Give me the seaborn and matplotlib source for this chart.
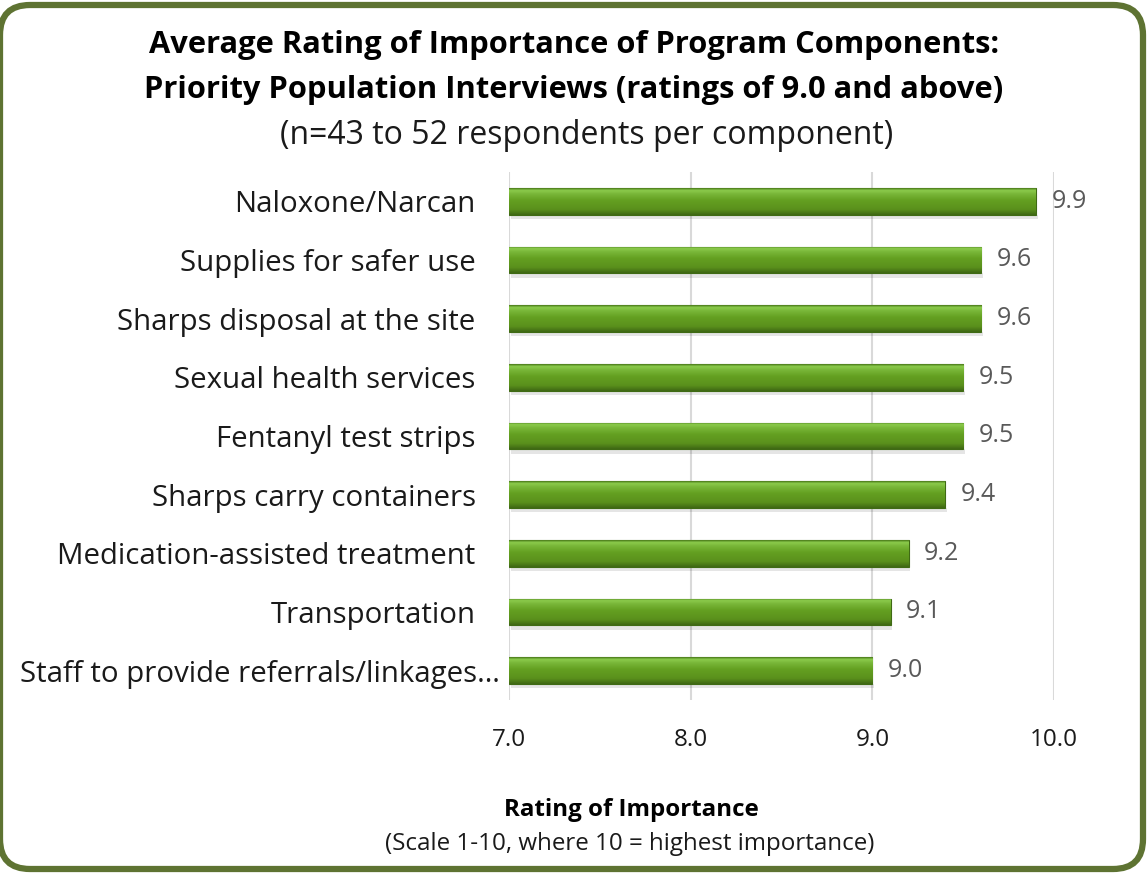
import matplotlib
matplotlib.use("Agg")
import matplotlib.pyplot as plt
import matplotlib.transforms as mtransforms
import seaborn as sns
import numpy as np
import pandas as pd
from matplotlib.patches import FancyBboxPatch
from matplotlib.colors import LinearSegmentedColormap

categories = ["Naloxone/Narcan", "Supplies for safer use", "Sharps disposal at the site",
              "Sexual health services", "Fentanyl test strips", "Sharps carry containers",
              "Medication-assisted treatment", "Transportation",
              "Staff to provide referrals/linkages\u2026"]
values = [9.9, 9.6, 9.6, 9.5, 9.5, 9.4, 9.2, 9.1, 9.0]
xticks = [7.0, 8.0, 9.0, 10.0]
AXIS_MIN = 7.0

sns.set_theme(style="white")
plt.rcParams['font.family'] = ['Open Sans', 'DejaVu Sans']

W, H = 1148, 874
fig = plt.figure(figsize=(W / 100, H / 100), dpi=100)

# background axes for the rounded frame (pixel coordinates)
bg = fig.add_axes([0, 0, 1, 1], zorder=-5)
bg.set_xlim(0, W)
bg.set_ylim(0, H)
bg.axis("off")
bg.patch.set_alpha(0)
frame = FancyBboxPatch((0, 5), 1143, 864, boxstyle="round,pad=0,rounding_size=30",
                       fill=False, edgecolor="#5e7332", linewidth=4.5, clip_on=False)
bg.add_patch(frame)

ax = fig.add_axes([509 / W, 174 / H, (1054 - 509) / W, (702 - 174) / H])
ax.patch.set_alpha(0)

df = pd.DataFrame({"cat": categories, "val": values})
sns.barplot(data=df, x="val", y="cat", orient="h", ax=ax, width=0.46,
            color="#64a020", edgecolor="#3f6a14", linewidth=0.8, zorder=3)

# bars start at the axis minimum
for p in ax.patches:
    right = p.get_x() + p.get_width()
    p.set_x(AXIS_MIN)
    p.set_width(right - AXIS_MIN)

cmap = LinearSegmentedColormap.from_list(
    "g", [(0.0, "#4a7a1a"), (0.08, "#8ccc4c"), (0.2, "#7ab83a"),
          (0.45, "#64a021"), (0.8, "#5a901c"), (1.0, "#3f6814")])
grad = np.linspace(0, 1, 64).reshape(-1, 1)
for p in list(ax.patches):
    x0, y0 = p.get_x(), p.get_y()
    w, h = p.get_width(), p.get_height()
    ax.add_patch(plt.Rectangle((x0 + 0.01, y0 + h), w, 0.07, color="#000000",
                               alpha=0.10, zorder=2, lw=0))
    im = ax.imshow(grad, extent=(x0, x0 + w, y0 + h, y0), aspect="auto",
                   cmap=cmap, zorder=4, interpolation="bilinear")
    im.set_clip_path(p)
ax.set_xlim(7.0, 10.0)
ax.set_ylim(len(categories) - 0.5, -0.5)

for i, v in enumerate(values):
    ax.text(v + 0.085, i, f"{v:.1f}", va="center", ha="left", fontsize=18,
            color="#595959", zorder=5)

ax.set_xticks(xticks)
ax.set_xticklabels([f"{t:.1f}" for t in xticks], fontsize=17.5, color="#1a1a1a")
ax.tick_params(axis="x", length=0, pad=20)
ax.set_yticks(range(len(categories)))
ax.set_yticklabels(categories, fontsize=21.2, color="#1a1a1a")
ax.tick_params(axis="y", length=0, pad=24)
# truncated label sits closer to the axis
last = ax.get_yticklabels()[-1]
last.set_transform(last.get_transform() +
                   mtransforms.ScaledTranslation(24 / 100, 0, fig.dpi_scale_trans))
ax.set_xlabel("")
ax.set_ylabel("")
for s in ax.spines.values():
    s.set_visible(False)
for t in xticks:
    ax.axvline(t, color="#d9d9d9", lw=1.5, zorder=1)

fig.text(574 / W, 1 - 45 / H, "Average Rating of Importance of Program Components:",
         ha="center", va="center", fontsize=22.2, fontweight="bold", color="#000000")
fig.text(574 / W, 1 - 90 / H, "Priority Population Interviews (ratings of 9.0 and above)",
         ha="center", va="center", fontsize=22.2, fontweight="bold", color="#000000")
fig.text(587 / W, 1 - 135 / H, "(n=43 to 52 respondents per component)",
         ha="center", va="center", fontsize=23, color="#1a1a1a")
fig.text(631 / W, 1 - 810 / H, "Rating of Importance", ha="center", va="center",
         fontsize=17.4, fontweight="bold", color="#000000")
fig.text(630 / W, 1 - 844 / H, "(Scale 1-10, where 10 = highest importance)",
         ha="center", va="center", fontsize=17.4, color="#1a1a1a")

fig.savefig("out.png", dpi=100)
